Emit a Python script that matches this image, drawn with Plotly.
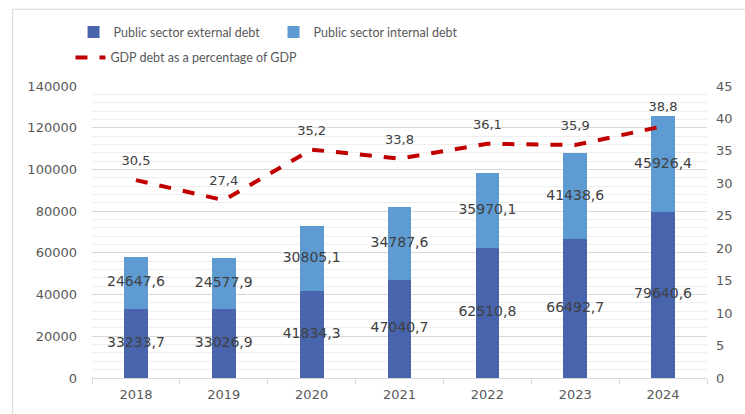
import plotly.graph_objects as go

years = ["2018", "2019", "2020", "2021", "2022", "2023", "2024"]
external_debt = [33233.7, 33026.9, 41834.3, 47040.7, 62510.8, 66492.7, 79640.6]
internal_debt = [24647.6, 24577.9, 30805.1, 34787.6, 35970.1, 41438.6, 45926.4]
debt_pct_gdp = [30.5, 27.4, 35.2, 33.8, 36.1, 35.9, 38.8]

left_ticks = [0, 20000, 40000, 60000, 80000, 100000, 120000, 140000]
right_ticks = [0, 5, 10, 15, 20, 25, 30, 35, 40, 45]

def fmt(v):
    return f"{v:.1f}".replace(".", ",")

TICK_FONT = dict(family="DejaVu Sans", size=13, color="#595959")
LEG_FONT = dict(family="Lato", size=12.5, color="#595959")

fig = go.Figure()
fig.add_trace(go.Bar(
    x=years, y=external_debt, name="Public sector external debt",
    marker=dict(color="#4864ac", line=dict(width=0)), legend="legend",
))
fig.add_trace(go.Bar(
    x=years, y=internal_debt, name="Public sector internal debt",
    marker=dict(color="#5e9bd2", line=dict(width=0)), legend="legend",
))
# data labels centred in each segment
fig.add_trace(go.Scatter(
    x=years, y=[e / 2 for e in external_debt], mode="text",
    text=[fmt(v) for v in external_debt],
    textfont=dict(family="DejaVu Sans", size=14, color="#404040"),
    showlegend=False, hoverinfo="skip",
))
fig.add_trace(go.Scatter(
    x=years, y=[e + i / 2 for e, i in zip(external_debt, internal_debt)], mode="text",
    text=[fmt(v) for v in internal_debt],
    textfont=dict(family="DejaVu Sans", size=14, color="#404040"),
    showlegend=False, hoverinfo="skip",
))
fig.add_trace(go.Scatter(
    x=years, y=debt_pct_gdp, name="GDP debt as a percentage of GDP",
    mode="lines+markers+text", yaxis="y2",
    line=dict(color="#c00000", width=4, dash="dash"),
    marker=dict(size=17, color="rgba(0,0,0,0)"),
    text=[fmt(v) for v in debt_pct_gdp], textposition="top center",
    textfont=dict(family="DejaVu Sans", size=13, color="#404040"),
    legend="legend2",
))

fig.update_layout(
    width=745, height=414,
    margin=dict(l=92, r=33, t=86, b=31),
    paper_bgcolor="white", plot_bgcolor="white",
    barmode="stack", bargap=0.73,
    xaxis=dict(
        type="category", showgrid=False, showline=True, linecolor="#d9d9d9", linewidth=1,
        ticks="outside", tickson="boundaries", ticklen=5, tickcolor="#d9d9d9",
        tickfont=TICK_FONT, ticklabelstandoff=4,
    ),
    yaxis=dict(
        range=[0, 140000], tickvals=left_ticks, ticktext=[str(t) for t in left_ticks],
        showgrid=True, gridcolor="#d9d9d9", gridwidth=1,
        minor=dict(dtick=4000, showgrid=True, gridcolor="#eeeeee", gridwidth=1),
        zeroline=False, showline=False, tickfont=TICK_FONT, ticklabelstandoff=14,
    ),
    yaxis2=dict(
        range=[0, 45], tickvals=right_ticks, overlaying="y", side="right",
        showgrid=False, zeroline=False, showline=False, tickfont=TICK_FONT,
        ticklabelstandoff=8,
    ),
    legend=dict(
        orientation="h", x=-0.03, y=1.235, xanchor="left", yanchor="top",
        font=LEG_FONT, entrywidth=155, entrywidthmode="pixels",
        bgcolor="rgba(0,0,0,0)", traceorder="normal",
    ),
    legend2=dict(
        orientation="h", x=-0.035, y=1.148, xanchor="left", yanchor="top",
        font=LEG_FONT, bgcolor="rgba(0,0,0,0)",
    ),
    shapes=[
        dict(type="line", xref="paper", yref="paper", x0=-0.129, x1=-0.129, y0=-0.2, y1=1.2626,
             line=dict(color="#d9d9d9", width=1)),
        dict(type="line", xref="paper", yref="paper", x0=-0.129, x1=1.1, y0=1.2626, y1=1.2626,
             line=dict(color="#d9d9d9", width=1)),
    ],
)

fig.write_html("out.html")
